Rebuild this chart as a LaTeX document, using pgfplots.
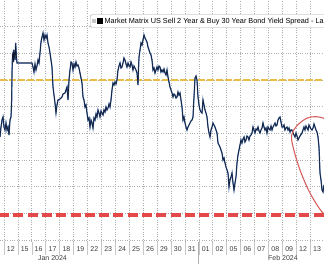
\documentclass[border=0pt]{standalone}
\usepackage{pgfplots}
\pgfplotsset{compat=1.18}
\usepackage{fontspec}
\setmainfont{Liberation Sans}
\definecolor{linedark}{RGB}{18,24,45}
\definecolor{lineblue}{RGB}{60,100,160}
\definecolor{bbred}{RGB}{228,72,72}
\definecolor{bbyellow}{RGB}{232,190,70}
\definecolor{circred}{RGB}{215,95,95}
\definecolor{gridc}{RGB}{175,175,175}
\definecolor{labc}{RGB}{60,60,60}
\begin{document}
\begin{tikzpicture}
\path[use as bounding box] (0,0) rectangle (324pt,264pt);
\begin{axis}[
  at={(0pt,22pt)}, anchor=south west,
  scale only axis, width=324pt, height=242pt,
  xmin=0, xmax=324, ymin=-2, ymax=240,
  axis line style={draw=none},
  clip=false,
  xtick={10.8,24.72,38.64,52.56,66.48,80.4,94.32,108.24,122.16,136.08,150,163.92,177.84,191.76,205.68,219.6,233.52,247.44,261.36,275.28,289.2,303.12,317.04},
  xticklabels={12,15,16,17,18,19,22,23,24,25,26,29,30,31,01,02,05,06,07,08,09,12,13},
  minor xtick={3.84,17.76,31.68,45.6,59.52,73.44,87.36,101.28,115.2,129.12,143.04,156.96,170.88,184.8,198.72,212.64,226.56,240.48,254.4,268.32,282.24,296.16,310.08},
  ytick={0,26.7,53.4,80.1,106.8,133.5,160.2,186.9,213.6},
  yticklabels={},
  major tick length=0pt,
  minor tick length=13pt,
  tick align=outside,
  minor tick style={gridc!70, line width=0.3pt},
  xminorgrids=true, ymajorgrids=true,
  minor grid style={gridc, line width=0.4pt, dash pattern=on 0.8pt off 1.6pt},
  major grid style={gridc, line width=0.4pt, dash pattern=on 0.8pt off 1.6pt},
  xticklabel style={font=\fontsize{7}{8}\selectfont, text=labc, yshift=-1.5pt},
  legend style={at={(rel axis cs:0.278,0.94)}, anchor=north west, draw=gray!70,
    rounded corners=1.5pt, fill=white, font=\fontsize{7.3}{8}\selectfont,
    inner xsep=1.5pt, inner ysep=1pt, cells={anchor=west}},
  legend image code/.code={\fill[gray!45, sharp corners] (1pt,-1.5pt) rectangle (4pt,1.5pt);
    \fill[black, sharp corners] (6pt,-2.6pt) rectangle (11.2pt,2.6pt);},
]
% reference lines
\addplot[bbyellow, line width=1.3pt, dash pattern=on 6.5pt off 2.5pt, forget plot] coordinates {(0,160) (324,160)};
\addplot[bbred, line width=3.8pt, dash pattern=on 10pt off 4.3pt, forget plot] coordinates {(-1,25) (326,25)};
\pgfplotstableread{
x y
0 103
1 113
2 120
3 123
4 113
5 110
6 117
7 110
8 113
9 105
10 120
11 123
11.7 140
12 167
12.5 185
13 187
13.5 178
14 190
15 180
15.7 197
16.3 185
17 177
32 177
33 173
34 168
35 176
36 170
37 174
38 180
39 177
40 187
41 198
42 203
43 207
44 200
45 205
46 202
47 205
48 197
49 193
50 187
51 180
52 173
53 153
54 145
55 137
56 127
57 135
58 140
60 141
62 143
63 146
65 147
66 150
67 153
68 140
69 160
70 170
71 178
72 177
73 170
74 176
75 173
76 178
77 174
78 175
79 172
80 167
81 162
82 157
83 143
84 140
85 133
86 135
87 127
88 120
89 122
90 113
91 120
92 117
93 112
94 122
95 120
96 126
97 123
98 130
99 127
100 123
101 129
102 127
103 125
104 130
105 128
106 133
107 130
108 132
109 136
110 133
111 140
112 150
113 157
114 155
115 158
116 156
117 160
118 170
119 174
120 177
121 172
122 173
123 177
124 182
125 180
126 176
127 173
128 177
129 174
130 173
131 178
132 175
133 170
134 174
135 172
136 170
137 167
138 155
138.5 170
139 183
140 190
141 197
142 195
143 200
144 205
145 202
146 200
147 198
148 193
149 190
150 187
151 185
152 180
153 170
154 172
155 167
156 170
157 173
158 170
159 174
160 173
161 168
162 170
163 168
164 171
165 167
166 165
167 170
168 163
169 158
170 153
171 150
172 147
173 143
174 146
175 145
176 142
177 143
178 148
179 145
180 147
181 140
182 133
183 120
184 123
185 117
186 113
187 110
188 113
189 115
190 117
191 119
192 120
193 123
194 143
195 162
196 164
197 160
198 143
199 135
200 130
201 128
202 127
203 140
204 135
205 130
206 127
207 123
208 113
209 107
210 103
211 110
212 113
213 117
214 115
215 113
216 110
217 107
218 97
219 95
220 93
221 90
222 87
223 80
224 82
225 77
226 73
227 70
228 67
229 53
230 60
231 63
232 67
233 57
234 50
235 57
236 63
237 77
238 85
239 90
240 95
241 100
242 97
243 101
244 103
245 98
246 100
247 104
248 103
249 100
250 104
251 105
252 107
253 113
254 110
255 107
256 111
257 110
258 113
259 109
260 107
261 110
262 112
263 117
264 113
265 110
266 112
267 107
268 113
269 111
270 110
271 114
272 110
273 113
274 115
275 117
276 114
277 115
278 120
279 122
280 123
281 118
282 113
283 113
284 115
285 110
286 112
287 113
288 110
289 112
290 108
291 110
292 110
293 107
294 105
295 103
296 107
297 104
298 100
300 104
302 107
303 110
304 113
305 110
306 114
307 112
308 110
309 115
310 113
311 111
312 110
313 112
314 116
315 113
316 110
317 108
318 103
319 93
320 67
321 60
322 50
323 48
324 55
}\spread
\addplot[lineblue, line width=1.3pt, forget plot] table[x=x,y=y] {\spread};
\addplot[linedark, line width=0.6pt] table[x=x,y=y] {\spread};
\addlegendentry{Market Matrix US Sell 2 Year \& Buy 30 Year Bond Yield Spread - La\hspace{14pt}}
% hand-drawn annotation circle
\draw[circred, line width=1.1pt] plot[smooth, tension=0.6] coordinates {
 (axis cs:326,26) (axis cs:321.7,28.3) (axis cs:310,47) (axis cs:300,70) (axis cs:293,93.3)
 (axis cs:291.7,105) (axis cs:296.7,114) (axis cs:306.7,121.7) (axis cs:316.7,123.3) (axis cs:326,121)};
% month separator and month labels
\draw[gridc, line width=0.5pt] (axis cs:198.72,-2) -- (axis cs:198.72,-26);
\node[font=\fontsize{7}{8}\selectfont, text=labc] at (axis cs:52.5,-18.5) {Jan 2024};
\node[font=\fontsize{7}{8}\selectfont, text=labc] at (axis cs:283,-18.5) {Feb 2024};
\end{axis}
\end{tikzpicture}
\end{document}
